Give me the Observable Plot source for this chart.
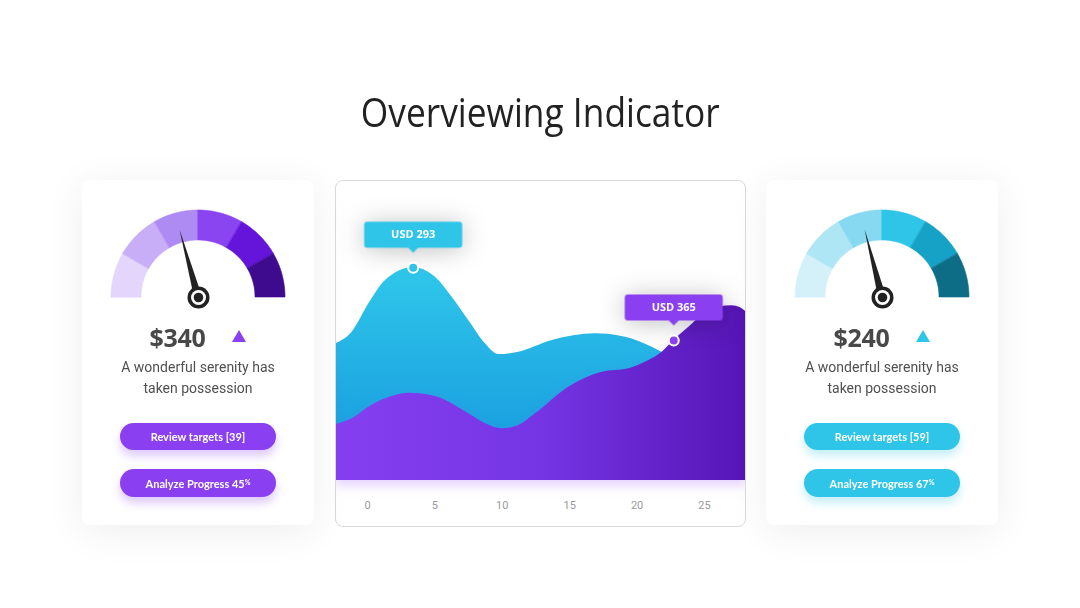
<!DOCTYPE html>
<html>
<head>
<meta charset="utf-8">
<script src="https://cdn.jsdelivr.net/npm/d3@7"></script>
<script src="https://cdn.jsdelivr.net/npm/@observablehq/plot@0.6"></script>
<style>
html,body{margin:0;padding:0;background:#fff;}
#root{position:relative;width:1080px;height:608px;overflow:hidden;font-family:"Open Sans",sans-serif;background:#fff;}
#title{position:absolute;left:0;width:1080px;top:86px;text-align:center;}
#title span{display:inline-block;font-family:"Open Sans",sans-serif;font-size:40px;line-height:52px;color:#222;transform-origin:50% 50%;}
.card{position:absolute;top:180px;width:232px;height:345px;background:#fff;border-radius:8px;box-shadow:0 6px 40px rgba(0,0,0,0.07);}
.center{position:absolute;left:335px;top:180px;width:411px;height:347px;border-radius:8px;overflow:hidden;background:#fff;}
.centerBorder{position:absolute;left:335px;top:180px;width:411px;height:347px;border-radius:8px;box-sizing:border-box;border:1px solid #d9d9d9;pointer-events:none;}
.gauge{position:absolute;}
.valrow{position:absolute;left:0;width:232px;top:140px;display:flex;justify-content:center;align-items:center;}
.val{font-family:"Open Sans",sans-serif;font-weight:700;font-size:25px;color:#484848;letter-spacing:-0.3px;}
.tri{width:0;height:0;border-left:7.5px solid transparent;border-right:7.5px solid transparent;margin-left:27px;margin-top:-2px;}
.desc{position:absolute;left:0;width:232px;top:177px;text-align:center;font-family:Roboto,sans-serif;font-size:14px;line-height:21px;color:#505050;}
.btn{position:absolute;left:38px;width:156px;height:27px;border-radius:14px;color:#fff;font-family:Lato,sans-serif;font-weight:700;font-size:11px;display:flex;align-items:center;justify-content:center;}
.btn sup{font-size:7px;line-height:0;position:relative;top:-1px;}
</style>
</head>
<body>
<div id="root">
  <div id="title"><span id="titleText">Overviewing Indicator</span></div>
</div>
<script>
// ---------- data ----------
const titleText = "Overviewing Indicator";
const xTicks = [0, 5, 10, 15, 20, 25];

const cyanX = [-2.37, -1.14, 0.10, 1.34, 3.39, 5.04, 6.28, 7.51, 8.75, 9.74, 11.22, 13.70, 16.91, 19.14, 21.12, 21.98, 23.96, 28.12];
const cyanY = [136.7, 148.3, 176.7, 200, 212.7, 203.3, 183.3, 160, 136.7, 126, 128.3, 140, 146.7, 143.3, 133.3, 127.3, 118, 115];

const purpleX = [-2.37, -1.14, 0.10, 1.34, 3.06, 5.04, 7.51, 8.75, 9.99, 11.22, 12.46, 14.93, 17.41, 19.38, 20.87, 21.86, 22.72, 23.84, 24.83, 26.06, 27.05, 27.67, 28.12];
const purpleY = [55.7, 61.7, 73.3, 81.7, 87.3, 84, 66.7, 56.7, 51.7, 55, 66.7, 93.3, 108.3, 111.7, 120, 128.3, 140, 153.3, 165, 173.3, 174.7, 172.7, 168];

const calloutLabels = ["USD 293", "USD 365"];
const calloutX = [3.39, 22.72];
const calloutY = [212.7, 140];

const cardValues = ["$340", "$240"];
const cardDesc = ["A wonderful serenity has", "taken possession"];
const reviewTargets = [39, 59];
const progress = [45, 67];
const needleValues = [0.415, 0.42];

const purple = "#8a3ff0";
const cyan = "#2ec5e8";
const gaugeColorsLeft = ["#e3d5fc", "#c8aef7", "#ae8bf3", "#8a45f0", "#6415d9", "#3e0b8e"];
const gaugeColorsRight = ["#d4f1fa", "#aee6f6", "#86d9f1", "#2ec5e8", "#16a2c6", "#0d6d87"];

// ---------- title ----------
const root = document.getElementById("root");
const tspan = document.getElementById("titleText");
tspan.textContent = titleText;
const tw = tspan.getBoundingClientRect().width;
tspan.style.transform = `scaleX(${359 / tw})`;

// ---------- center chart ----------
const cyanData = cyanX.map((x, i) => ({x, y: cyanY[i], base: 0}));
const purpleData = purpleX.map((x, i) => ({x, y: purpleY[i], base: 0}));
const callouts = calloutLabels.map((label, i) => ({label, x: calloutX[i], y: calloutY[i], color: i === 0 ? cyan : purple}));

const calloutSymbol = {
  draw(ctx) {
    const w = 49, top = -46, bot = -20, r = 3;
    ctx.moveTo(-w + r, top);
    ctx.lineTo(w - r, top);
    ctx.arcTo(w, top, w, top + r, r);
    ctx.lineTo(w, bot - r);
    ctx.arcTo(w, bot, w - r, bot, r);
    ctx.lineTo(5, bot);
    ctx.lineTo(0, bot + 5);
    ctx.lineTo(-5, bot);
    ctx.lineTo(-w + r, bot);
    ctx.arcTo(-w, bot, -w, bot - r, r);
    ctx.lineTo(-w, top + r);
    ctx.arcTo(-w, top, -w + r, top, r);
    ctx.closePath();
  }
};

function makeChart(curve) {
  return Plot.plot({
    width: 411,
    height: 347,
    marginTop: 0, marginBottom: 47, marginLeft: 0, marginRight: 0,
    style: {background: "transparent", fontFamily: "Roboto, sans-serif", fontSize: "11px", color: "#9a9a9a"},
    x: {domain: [-2.374, 28.116], ticks: xTicks, tickSize: 0, tickPadding: 21, label: null, tickFormat: d => String(d)},
    y: {domain: [0, 300], axis: null},
    marks: [
      Plot.area(cyanData, {x1: "x", y1: "base", x2: "x", y2: "y", fill: "#30c7ea", curve}),
      Plot.area(purpleData, {x1: "x", y1: "base", x2: "x", y2: "y", fill: "#7a37e6", curve}),
      Plot.dot(callouts, {x: "x", y: "y", symbol: calloutSymbol, r: 5, fill: "color", stroke: "none"}),
      Plot.text(callouts, {x: "x", y: "y", text: "label", dy: -33, fill: "white", fontWeight: "bold", fontSize: 11, fontFamily: "Open Sans, sans-serif"}),
      Plot.dot(callouts, {x: "x", y: "y", r: 5, fill: "color", stroke: "white", strokeWidth: 2})
    ],
    color: {type: "identity"}
  });
}
function areaOk(svg) {
  const paths = svg.querySelectorAll('g[aria-label="area"] path');
  if (paths.length < 2) return false;
  for (const p of paths) {
    const d = p.getAttribute("d") || "";
    if (d.length < 20 || d.includes("NaN")) return false;
  }
  return true;
}
let chart = null;
for (const curve of ["monotone-x", "catmull-rom", "natural", "linear"]) {
  try {
    const c = makeChart(curve);
    if (areaOk(c)) { chart = c; break; }
    if (!chart) chart = c;
  } catch (e) {}
}

try {
  const svgSel = d3.select(chart);
  const defs = svgSel.insert("svg:defs", ":first-child");
  const g1 = defs.append("svg:linearGradient").attr("id", "gCyan").attr("x1", 0).attr("y1", 0).attr("x2", 0).attr("y2", 1);
  g1.append("svg:stop").attr("offset", "0%").attr("stop-color", "#30c7ea");
  g1.append("svg:stop").attr("offset", "100%").attr("stop-color", "#1496de");
  const g2 = defs.append("svg:linearGradient").attr("id", "gPurple").attr("x1", 0).attr("y1", 0).attr("x2", 1).attr("y2", 0);
  g2.append("svg:stop").attr("offset", "0%").attr("stop-color", "#853ff0");
  g2.append("svg:stop").attr("offset", "50%").attr("stop-color", "#7535e4");
  g2.append("svg:stop").attr("offset", "100%").attr("stop-color", "#5615b6");
  const areas = svgSel.selectAll('g[aria-label="area"]').nodes();
  if (areas[0]) { d3.select(areas[0]).attr("fill", "url(#gCyan)").selectAll("path").attr("fill", "url(#gCyan)"); }
  if (areas[1]) { d3.select(areas[1]).attr("fill", "url(#gPurple)").style("filter", "drop-shadow(0 5px 6px rgba(150,80,250,0.28))").selectAll("path").attr("fill", "url(#gPurple)"); }
  const dots = svgSel.selectAll('g[aria-label="dot"]').nodes();
  if (dots[0]) d3.select(dots[0]).style("filter", "drop-shadow(0 2px 12px rgba(0,0,0,0.25))");
} catch (e) {}

const center = document.createElement("div");
center.className = "center";
center.appendChild(chart);
root.appendChild(center);
const border = document.createElement("div");
border.className = "centerBorder";
root.appendChild(border);

// ---------- gauges & cards ----------
function ringSeg(i, n, r0, r1) {
  const a0 = Math.PI * (1 - i / n), a1 = Math.PI * (1 - (i + 1) / n);
  return d3.range(0, 21).map(k => {
    const a = a0 + (a1 - a0) * k / 20;
    return {x1: r0 * Math.cos(a), y1: r0 * Math.sin(a), x2: r1 * Math.cos(a), y2: r1 * Math.sin(a)};
  });
}

function gauge(colors, value) {
  const n = colors.length;
  const a = Math.PI * (1 - value);
  const L = 70, hw = 4;
  const tip = {x: L * Math.cos(a), y: L * Math.sin(a)};
  const px = -Math.sin(a) * hw, py = Math.cos(a) * hw;
  const needle = [
    {x1: px, y1: py, x2: -px, y2: -py},
    {x1: tip.x, y1: tip.y, x2: tip.x, y2: tip.y}
  ];
  return Plot.plot({
    width: 190, height: 106,
    margin: 0,
    x: {domain: [-95, 95], axis: null},
    y: {domain: [-16, 90], axis: null},
    style: {background: "transparent"},
    marks: [
      ...colors.map((c, i) => Plot.area(ringSeg(i, n, 57, 87), {x1: "x1", y1: "y1", x2: "x2", y2: "y2", fill: c, stroke: c, strokeWidth: 0.6})),
      Plot.area(needle, {x1: "x1", y1: "y1", x2: "x2", y2: "y2", fill: "#222"}),
      Plot.dot([{x: 0, y: 0}], {x: "x", y: "y", r: 11, fill: "#222"}),
      Plot.dot([{x: 0, y: 0}], {x: "x", y: "y", r: 7.5, fill: "#fff"}),
      Plot.dot([{x: 0, y: 0}], {x: "x", y: "y", r: 4.8, fill: "#222"})
    ]
  });
}

function card(left, idx, color, gcolors) {
  const c = document.createElement("div");
  c.className = "card";
  c.style.left = left + "px";
  const g = gauge(gcolors, needleValues[idx]);
  const gw = document.createElement("div");
  gw.className = "gauge";
  gw.style.left = (116 - 95) + "px";
  gw.style.top = (117 - 90) + "px";
  gw.appendChild(g);
  c.appendChild(gw);
  const row = document.createElement("div");
  row.className = "valrow";
  row.innerHTML = `<span class="val">${cardValues[idx]}</span><span class="tri" style="border-bottom:12px solid ${color}"></span>`;
  c.appendChild(row);
  const d = document.createElement("div");
  d.className = "desc";
  d.innerHTML = cardDesc.join("<br>");
  c.appendChild(d);
  const b1 = document.createElement("div");
  b1.className = "btn";
  b1.style.top = "243px";
  b1.style.background = color;
  b1.style.boxShadow = `0 6px 10px ${idx === 0 ? "rgba(138,63,240,0.28)" : "rgba(46,197,232,0.28)"}`;
  b1.textContent = `Review targets [${reviewTargets[idx]}]`;
  c.appendChild(b1);
  const b2 = document.createElement("div");
  b2.className = "btn";
  b2.style.top = "289px";
  b2.style.height = "28px";
  b2.style.background = color;
  b2.style.boxShadow = b1.style.boxShadow;
  b2.innerHTML = `Analyze Progress ${progress[idx]}<sup>%</sup>`;
  c.appendChild(b2);
  root.appendChild(c);
}
card(82, 0, purple, gaugeColorsLeft);
card(766, 1, cyan, gaugeColorsRight);
</script>
</body>
</html>
